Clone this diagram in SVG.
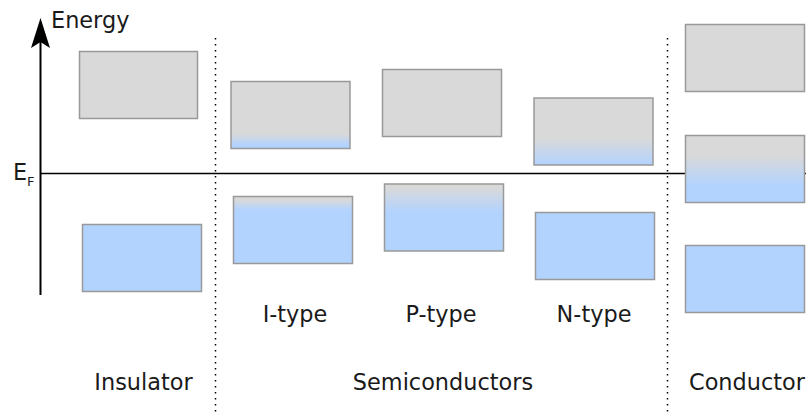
<svg xmlns="http://www.w3.org/2000/svg" width="806" height="412" viewBox="0 0 806 412">
  <style>
    .band { stroke: #999; stroke-width: 1.5; }
    .gap { fill: #d9d9d9; }
    .full { fill: #b3d3ff; }
    .lbl { font-family: "DejaVu Sans", Verdana, sans-serif; font-size: 22.4px; fill: #1a1a1a; }
    .sep { stroke: #000; stroke-width: 1.5; stroke-dasharray: 1.5 4.5; fill: none; }
  </style>
  <defs>
    <!-- conduction band of I-type: thin occupied edge at the bottom -->
    <linearGradient id="gI_cb" x1="0" y1="0" x2="0" y2="1">
      <stop offset="0.78" stop-color="#d9d9d9"/>
      <stop offset="0.95" stop-color="#b3d3ff"/>
    </linearGradient>
    <!-- valence band of I-type: thin empty edge at the top -->
    <linearGradient id="gI_vb" x1="0" y1="0" x2="0" y2="1">
      <stop offset="0.05" stop-color="#d9d9d9"/>
      <stop offset="0.2" stop-color="#b3d3ff"/>
    </linearGradient>
    <!-- valence band of P-type: holes near the top -->
    <linearGradient id="gP_vb" x1="0" y1="0" x2="0" y2="1">
      <stop offset="0.05" stop-color="#d9d9d9"/>
      <stop offset="0.42" stop-color="#b3d3ff"/>
    </linearGradient>
    <!-- conduction band of N-type: electrons near the bottom -->
    <linearGradient id="gN_cb" x1="0" y1="0" x2="0" y2="1">
      <stop offset="0.6" stop-color="#d9d9d9"/>
      <stop offset="1" stop-color="#b3d3ff"/>
    </linearGradient>
    <!-- partially filled band of a conductor -->
    <linearGradient id="gC_mid" x1="0" y1="0" x2="0" y2="1">
      <stop offset="0.3" stop-color="#d9d9d9"/>
      <stop offset="0.75" stop-color="#b3d3ff"/>
    </linearGradient>
  </defs>

  <!-- axes and separators -->
  <g id="connectors">
    <line x1="40.5" y1="295" x2="40.5" y2="40" stroke="#000" stroke-width="2"/>
    <path d="M40.5 18 L50 48 L40.5 42 L31 48 Z" fill="#000"/>
    <line x1="40" y1="173.5" x2="806" y2="173.5" stroke="#000" stroke-width="1.3"/>
    <line class="sep" x1="215.5" y1="38" x2="215.5" y2="412"/>
    <line class="sep" x1="667.5" y1="38" x2="667.5" y2="412"/>
  </g>

  <g id="axis-labels">
    <text class="lbl" x="51" y="28">Energy</text>
    <text class="lbl" x="13" y="180">E</text>
    <text class="lbl" x="27" y="186" style="font-size:13px">F</text>
  </g>

  <g id="insulator">
    <rect class="band gap" x="79.5" y="51.5" width="118" height="67"/>
    <rect class="band full" x="82.5" y="224.5" width="119" height="67"/>
    <text class="lbl" x="143.5" y="389.5" text-anchor="middle">Insulator</text>
  </g>

  <g id="i-type">
    <rect class="band" fill="url(#gI_cb)" x="231" y="81.5" width="119" height="67"/>
    <rect class="band" fill="url(#gI_vb)" x="233.5" y="196.5" width="119" height="67"/>
    <text class="lbl" x="295" y="322" text-anchor="middle">I-type</text>
  </g>

  <g id="p-type">
    <rect class="band gap" x="382.5" y="69.5" width="119" height="67"/>
    <rect class="band" fill="url(#gP_vb)" x="384.5" y="184" width="119" height="67"/>
    <text class="lbl" x="441" y="322" text-anchor="middle">P-type</text>
  </g>

  <g id="n-type">
    <rect class="band" fill="url(#gN_cb)" x="534" y="98" width="119" height="67"/>
    <rect class="band full" x="535.5" y="212.5" width="119" height="67"/>
    <text class="lbl" x="594" y="322" text-anchor="middle">N-type</text>
  </g>

  <g id="semiconductors">
    <text class="lbl" x="443" y="389.5" text-anchor="middle">Semiconductors</text>
  </g>

  <g id="conductor">
    <rect class="band gap" x="685.5" y="24.5" width="119" height="67"/>
    <rect class="band" fill="url(#gC_mid)" x="685.5" y="135.5" width="119" height="67"/>
    <rect class="band full" x="685.5" y="245.5" width="119" height="67"/>
    <text class="lbl" x="747" y="389.5" text-anchor="middle">Conductor</text>
  </g>
</svg>
